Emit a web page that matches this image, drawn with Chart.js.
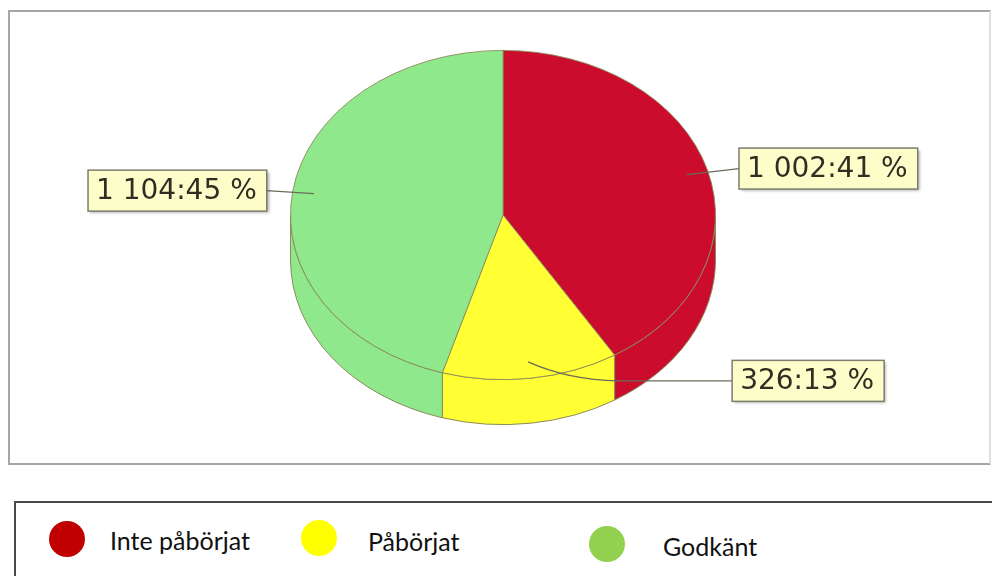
<!DOCTYPE html>
<html>
<head>
<meta charset="utf-8">
<script src="https://cdn.jsdelivr.net/npm/chart.js@4/dist/chart.umd.min.js"></script>
<style>
  html, body { margin: 0; padding: 0; background: #fff; }
  body { width: 992px; height: 576px; position: relative; overflow: hidden; }
  #frame {
    position: absolute; left: 8px; top: 10px; width: 983px; height: 455px;
    border: 2px solid #a6a6a6; border-right-color: #e0e0e0; box-sizing: border-box;
  }
  #wrap { position: absolute; left: 0; top: 0; width: 992px; height: 470px; }
  #legend {
    position: absolute; left: 14px; top: 501px; width: 990px; height: 90px;
    border: 2px solid #4a4a4a; box-sizing: border-box;
    font-family: Lato, "Noto Sans", sans-serif; font-size: 25px; color: #111;
  }
  .dot { position: absolute; width: 36px; height: 36px; border-radius: 50%; }
  .lbl { position: absolute; white-space: nowrap; line-height: 1; }
</style>
</head>
<body>
<div id="frame"></div>
<div id="wrap"><canvas id="pie"></canvas></div>
<div id="legend"></div>
<script>
// data
const labels = ["Inte påbörjat", "Påbörjat", "Godkänt"];
const counts = [1002, 326, 1104];

// look
const sliceColors = ["#cb0c2c", "#ffff33", "#8fe98c"];
const legendColors = ["#c00000", "#ffff00", "#92d050"];
// legend item positions inside the legend box (dot centre x/y, text x/y)
const legendDots = [[51, 36], [303, 35], [591, 41]];
const legendText = [[94, 37], [352, 38], [647, 43]];
// callout offsets from the anchor point: [dx, dy, side]
const calloutOffsets = [[52, -6, "left"], [204, 19, "left"], [-47, -3, "right"]];

const TILT = 165 / 213;   // vertical squash of the pie
const DEPTH = 45;         // thickness of the pie

const total = counts.reduce((a, b) => a + b, 0);
const fmt = v => String(v).replace(/\B(?=(\d{3})+(?!\d))/g, " ");

function squash(ctx, cy) {
    ctx.translate(0, cy * (1 - TILT));
    ctx.scale(1, TILT);
}

const pie3d = {
    id: "pie3d",
    beforeDatasetsDraw(chart) {
        const ctx = chart.ctx;
        const arcs = chart.getDatasetMeta(0).data;
        if (!arcs.length) return;
        const { x: cx, y: cy, outerRadius: r } = arcs[0].getProps(["x", "y", "outerRadius"], true);
        const ry = r * TILT;
        // side walls for the front half
        arcs.forEach((arc, i) => {
            const p = arc.getProps(["startAngle", "endAngle"], true);
            const a = Math.max(p.startAngle, 0);
            const b = Math.min(p.endAngle, Math.PI);
            if (b <= a) return;
            ctx.save();
            ctx.beginPath();
            ctx.ellipse(cx, cy, r, ry, 0, a, b);
            ctx.ellipse(cx, cy + DEPTH, r, ry, 0, b, a, true);
            ctx.closePath();
            ctx.fillStyle = sliceColors[i];
            ctx.fill();
            ctx.lineWidth = 1;
            ctx.strokeStyle = "#8a8a5a";
            ctx.stroke();
            ctx.restore();
        });
        ctx.save();
        squash(ctx, cy);
    },
    afterDatasetsDraw(chart) {
        chart.ctx.restore();
    },
    afterDraw(chart) {
        const ctx = chart.ctx;
        const arcs = chart.getDatasetMeta(0).data;
        ctx.save();
        ctx.font = "28px 'DejaVu Sans', Verdana, sans-serif";
        ctx.textBaseline = "middle";
        arcs.forEach((arc, i) => {
            const p = arc.getProps(["x", "y", "startAngle", "endAngle", "outerRadius"], true);
            const mid = (p.startAngle + p.endAngle) / 2;
            const ax = p.x + Math.cos(mid) * p.outerRadius * 0.9;
            const ay = p.y + Math.sin(mid) * p.outerRadius * 0.9 * TILT;
            const txt = fmt(counts[i]) + ":" + Math.round(counts[i] / total * 100) + " %";
            const w = ctx.measureText(txt).width + 18;
            const h = 41;
            const [dx, dy, side] = calloutOffsets[i];
            const bx = side === "left" ? ax + dx : ax + dx - w;
            const by = ay + dy - h / 2;
            const ex = side === "left" ? bx : bx + w;
            // leader line
            ctx.beginPath();
            ctx.moveTo(ax, ay);
            if (i === 1) {
                ctx.quadraticCurveTo(ax + 40, ay + 18, ax + 90, ay + 19);
            }
            ctx.lineTo(ex, ay + dy);
            ctx.strokeStyle = "#6b6b5a";
            ctx.lineWidth = 1.2;
            ctx.stroke();
            // box
            ctx.shadowColor = "rgba(0,0,0,0.35)";
            ctx.shadowOffsetX = 2;
            ctx.shadowOffsetY = 2;
            ctx.shadowBlur = 3;
            ctx.fillStyle = "#fdfdc9";
            ctx.fillRect(bx, by, w, h);
            ctx.shadowColor = "transparent";
            ctx.strokeStyle = "#7d7d6e";
            ctx.lineWidth = 1.5;
            ctx.strokeRect(bx, by, w, h);
            ctx.fillStyle = "#2e2e22";
            ctx.fillText(txt, bx + 8, by + h / 2 + 1);
        });
        ctx.restore();
    }
};

new Chart(document.getElementById("pie"), {
    type: "pie",
    data: {
        labels: labels,
        datasets: [{
            data: counts,
            backgroundColor: sliceColors,
            borderColor: "#8a8a5a",
            borderWidth: 1
        }]
    },
    options: {
        responsive: true,
        maintainAspectRatio: false,
        animation: false,
        layout: { padding: { left: 14, right: 0, top: 2, bottom: 42 } },
        plugins: { legend: { display: false }, tooltip: { enabled: false } }
    },
    plugins: [pie3d]
});

// legend box
const legend = document.getElementById("legend");
labels.forEach((name, i) => {
    const dot = document.createElement("div");
    dot.className = "dot";
    dot.style.background = legendColors[i];
    dot.style.left = (legendDots[i][0] - 18) + "px";
    dot.style.top = (legendDots[i][1] - 18) + "px";
    legend.appendChild(dot);
    const t = document.createElement("div");
    t.className = "lbl";
    t.textContent = name;
    t.style.left = legendText[i][0] + "px";
    t.style.top = (legendText[i][1] - 12) + "px";
    legend.appendChild(t);
});
</script>
</body>
</html>
